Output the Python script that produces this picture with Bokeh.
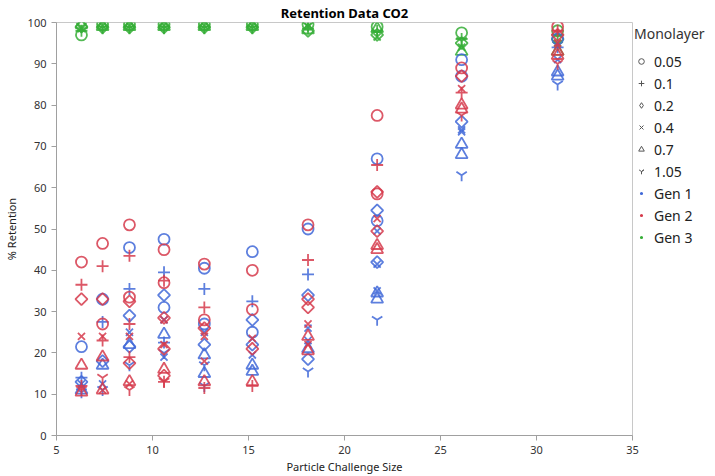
import math
from bokeh.plotting import figure
from bokeh.models import Range1d, FixedTicker, Legend, LegendItem, ColumnDataSource
from bokeh.embed import file_html
from bokeh.resources import INLINE

# ---------------- data ----------------
monolayers = ["0.05", "0.1", "0.2", "0.4", "0.7", "1.05"]
gens = ["Gen 1", "Gen 2", "Gen 3"]
gen_colors = ["#4169D8", "#D63B4C", "#36AE37"]

# Gen 1 points (size, monolayer, % retention)
g1_size = [6.3]*6 + [7.4]*6 + [8.8]*7 + [10.6]*9 + [12.7]*9 + [15.2]*8 + [18.1]*8 + [21.7]*10 + [26.1]*8 + [31.1]*6
g1_mono = (["0.05", "0.1", "0.2", "0.4", "0.7", "1.05"]
           + ["0.05", "0.1", "0.2", "0.4", "0.7", "1.05"]
           + ["0.05", "0.1", "0.2", "0.2", "0.4", "0.7", "1.05"]
           + ["0.05", "0.05", "0.1", "0.1", "0.2", "0.4", "0.4", "0.7", "1.05"]
           + ["0.05", "0.05", "0.1", "0.2", "0.4", "0.7", "0.7", "1.05", "1.05"]
           + ["0.05", "0.05", "0.1", "0.2", "0.2", "0.4", "0.7", "0.7"]
           + ["0.05", "0.1", "0.2", "0.2", "0.4", "0.4", "0.7", "1.05"]
           + ["0.05", "0.05", "0.2", "0.2", "0.4", "0.4", "0.4", "0.7", "0.7", "1.05"]
           + ["0.05", "0.05", "0.2", "0.4", "0.4", "0.7", "0.7", "1.05"]
           + ["0.05", "0.1", "0.4", "0.7", "0.7", "1.05"])
g1_val = ([21.5, 14, 13, 12.5, 11, 10.5]
          + [33, 27.5, 18, 12.5, 17, 11]
          + [45.5, 35.5, 29, 21.5, 25, 22, 17]
          + [47.5, 31, 39.5, 22.5, 34, 28, 19, 24.5, 20]
          + [40.5, 27, 35.5, 22, 25, 19.5, 15, 17, 12]
          + [44.5, 25, 32.5, 28, 22, 19.5, 17, 15.5]
          + [50, 39, 34, 18.5, 26, 23, 21, 15.5]
          + [67, 52, 54.5, 42, 49.5, 41.5, 35, 34.5, 33, 28]
          + [91, 87, 76, 74, 73.5, 70.5, 68, 63]
          + [96, 94, 91, 88, 87, 85])

# Gen 2 points
g2_size = [6.3]*8 + [7.4]*10 + [8.8]*11 + [10.6]*11 + [12.7]*8 + [15.2]*6 + [18.1]*8 + [21.7]*8 + [26.1]*7 + [31.1]*7
g2_mono = (["0.05", "0.1", "0.2", "0.4", "0.7", "1.05", "0.1", "0.7"]
           + ["0.05", "0.1", "0.2", "0.05", "0.4", "0.1", "0.7", "1.05", "0.4", "0.7"]
           + ["0.05", "0.1", "0.05", "0.2", "0.1", "0.4", "0.1", "0.2", "0.7", "0.4", "1.05"]
           + ["0.05", "0.05", "0.1", "0.2", "0.4", "0.4", "0.2", "0.7", "0.2", "1.05", "0.1"]
           + ["0.05", "0.1", "0.05", "0.2", "0.4", "0.4", "0.7", "0.1"]
           + ["0.05", "0.05", "0.4", "0.2", "0.7", "0.1"]
           + ["0.05", "0.1", "0.2", "0.2", "0.4", "0.7", "0.4", "0.7"]
           + ["0.05", "0.1", "0.2", "0.05", "0.4", "0.2", "0.7", "0.7"]
           + ["0.05", "0.2", "0.4", "0.1", "0.7", "0.7", "1.05"]
           + ["0.05", "0.1", "0.2", "0.4", "0.7", "1.05", "0.7"])
g2_val = ([42, 36.5, 33, 24, 17, 11, 12, 10.5]
          + [46.5, 41, 33, 27, 24, 23, 19, 14, 11, 11]
          + [51, 43.5, 33.5, 32.5, 27, 24, 19, 17.5, 13, 12.5, 11]
          + [45, 37, 37.5, 28.5, 28, 22, 21, 16, 14.5, 13, 13]
          + [41.5, 31, 28, 26, 24, 18, 13, 11.5]
          + [40, 30.5, 23.5, 21, 13, 12]
          + [51, 42.5, 33, 31, 27, 24, 22, 20.5]
          + [77.5, 65.5, 59, 58.5, 52.5, 49.5, 46, 45]
          + [89, 87, 84, 83, 80, 79, 77.5]
          + [99, 98, 97, 95, 93, 90, 92])

# Gen 3 points
g3_size = [6.3]*6 + [7.4]*6 + [8.8]*6 + [10.6]*6 + [12.7]*6 + [15.2]*6 + [18.1]*6 + [21.7]*6 + [26.1]*6 + [31.1]*6
g3_mono = monolayers * 10
g3_val = ([97, 98, 99, 98.5, 99.5, 99]
          + [99.5, 99, 98.8, 99.2, 99, 98.6]
          + [99.5, 99, 98.8, 99.2, 99, 98.6]
          + [99.5, 99, 98.8, 99.2, 99, 98.6]
          + [99.5, 99, 98.8, 99.2, 99, 98.6]
          + [99.5, 99, 98.8, 99.2, 99, 98.6]
          + [99.5, 98.5, 98, 99, 98.2, 99.2]
          + [99, 98, 97, 96.5, 98.5, 97.5]
          + [97.5, 96, 95, 94, 93, 95.5]
          + [98, 97, 96, 95, 93, 94.5])

x_ticks = [5, 10, 15, 20, 25, 30, 35]
y_ticks = [0, 10, 20, 30, 40, 50, 60, 70, 80, 90, 100]

FONT = "Noto Sans"

# marker style per monolayer: (bokeh marker, angle, size, legend marker)
style = {
    "0.05": ("circle", 0.0, 11, "circle"),
    "0.1": ("cross", 0.0, 12, "cross"),
    "0.2": ("square", math.pi / 4, 8.5, "diamond"),
    "0.4": ("x", 0.0, 10, "x"),
    "0.7": ("triangle", 0.0, 12, "triangle"),
    "1.05": ("y", 0.0, 12, "y"),
}

# ---------------- figure ----------------
p = figure(width=715, height=476, output_backend="svg", toolbar_location=None,
           x_range=Range1d(5, 35), y_range=Range1d(0, 100),
           frame_width=576, frame_height=413,
           min_border_left=55, min_border_top=0, min_border_bottom=41, min_border_right=0,
           title="Retention Data CO2")

p.title.align = "center"
p.title.text_font = FONT
p.title.text_font_size = "13px"
p.title.text_font_style = "bold"
p.title.text_color = "#000000"
p.title.standoff = 2

p.xgrid.visible = False
p.ygrid.visible = False
p.outline_line_color = "#C8C8C8"
p.outline_line_width = 1

for ax in (p.xaxis, p.yaxis):
    ax.minor_tick_line_color = None
    ax.axis_line_color = "#A0A0A0"
    ax.major_tick_line_color = "#A0A0A0"
    ax.major_tick_out = 5
    ax.major_tick_in = 0
    ax.major_label_text_font = FONT
    ax.major_label_text_font_size = "11px"
    ax.major_label_text_color = "#333333"
    ax.axis_label_text_font = FONT
    ax.axis_label_text_font_size = "11px"
    ax.axis_label_text_font_style = "normal"
    ax.axis_label_text_color = "#222222"

p.xaxis.ticker = FixedTicker(ticks=x_ticks)
p.yaxis.ticker = FixedTicker(ticks=y_ticks)
p.xaxis.axis_label = "Particle Challenge Size"
p.yaxis.axis_label = "% Retention"
p.xaxis.axis_label_standoff = 2
p.yaxis.axis_label_standoff = 6

for sizes, monos, vals, color in ((g3_size, g3_mono, g3_val, gen_colors[2]),
                                  (g1_size, g1_mono, g1_val, gen_colors[0]),
                                  (g2_size, g2_mono, g2_val, gen_colors[1])):
    src = ColumnDataSource(dict(
        x=sizes, y=vals,
        marker=[style[m][0] for m in monos],
        angle=[style[m][1] for m in monos],
        size=[style[m][2] for m in monos]))
    p.scatter("x", "y", source=src, marker="marker", angle="angle", size="size",
              fill_color=None, line_color=color, line_width=1.8, line_alpha=0.85)

# ---------------- legend ----------------
items = []
for lab in monolayers:
    lm = style[lab][3]
    r = p.scatter(x=[-100], y=[-100], marker=lm, size=7,
                  fill_color=None, line_color="#555555", line_width=1)
    items.append(LegendItem(label=lab, renderers=[r]))
for g, c in zip(gens, gen_colors):
    r = p.scatter(x=[-100], y=[-100], marker="circle", size=4, fill_color=c,
                  line_color="white", line_width=2.4)
    items.append(LegendItem(label=g, renderers=[r]))

legend = Legend(items=items, title="Monolayer", location="top_left")
legend.title_text_font = FONT
legend.title_text_font_size = "14px"
legend.title_text_font_style = "normal"
legend.title_text_color = "#333333"
legend.title_standoff = 8
legend.label_text_font = FONT
legend.label_text_font_size = "14px"
legend.label_text_color = "#222222"
legend.glyph_width = 14
legend.glyph_height = 20
legend.label_height = 20
legend.spacing = 2
legend.label_standoff = 6
legend.padding = 4
legend.margin = 2
legend.border_line_color = None
legend.background_fill_alpha = 0
p.add_layout(legend, "right")

open("out.html", "w").write(file_html(p, INLINE))
